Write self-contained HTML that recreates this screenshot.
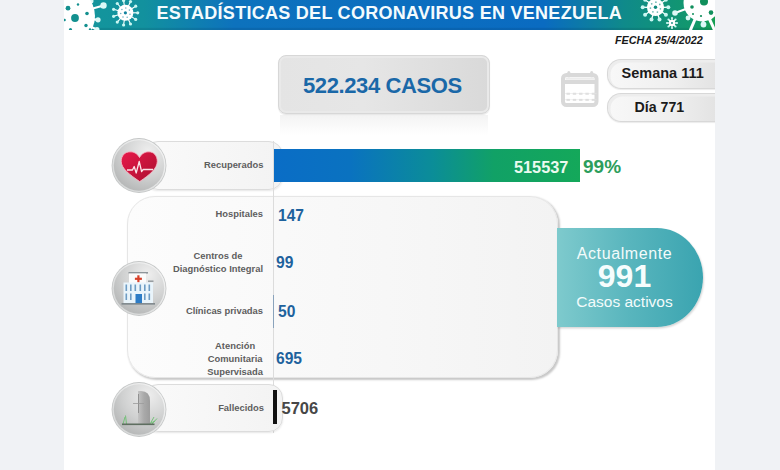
<!DOCTYPE html>
<html><head><meta charset="utf-8">
<style>
*{margin:0;padding:0;box-sizing:border-box}
html,body{width:780px;height:470px;overflow:hidden;background:#f0f2f5;font-family:"Liberation Sans",sans-serif}
.a{position:absolute}
#panel{left:64px;top:0;width:651px;height:470px;background:#fff;overflow:hidden}
#hdr{left:0;top:0;width:651px;height:30px;background:linear-gradient(90deg,#14979b 0px,#12919e 80px,#0d72bd 170px,#0a6bc1 480px,#0f8a8a 560px,#12986c 630px,#16a052 651px);box-shadow:inset 0 -2px 1px rgba(0,30,60,.12)}
.title{left:92.5px;top:3px;font-size:18px;font-weight:bold;color:#f4fbfd;white-space:nowrap;letter-spacing:0.28px}
.fecha{font-size:10.8px;font-weight:bold;font-style:italic;color:#1a1a1a;white-space:nowrap}
.casos{left:214px;top:55px;width:212px;height:59px;border-radius:8px;background:linear-gradient(90deg,#e4e4e4,#e6e6e6 40%,#d9d9d9);border:1px solid #d7d7d7;box-shadow:inset 0 0 0 2px #e9e9e9,0 1px 1px rgba(0,0,0,.1)}
.casos span{position:absolute;left:24px;top:16.5px;font-size:22px;font-weight:bold;color:#1a68a8;letter-spacing:-0.4px;white-space:nowrap}
.pill{border-radius:14px 0 0 14px;background:linear-gradient(90deg,#f8f8f8,#efefef 55%,#e0e0e0);border:1px solid #d8d8d8;border-right:none;box-shadow:inset 1.5px 1.5px 0 1px #ededed,0 1px 1px rgba(0,0,0,.08)}
.pill span{position:absolute;font-size:14px;font-weight:bold;color:#1b1b1b;white-space:nowrap}
.circ{width:55px;height:55px;border-radius:50%;background:radial-gradient(circle at 70% 30%,#f1f1f1 0%,#dedede 45%,#bdbdbd 100%);box-shadow:0 0 0 1.5px #e6e6e6,0 1px 3px rgba(0,0,0,.25)}
.lab{border-radius:14px;background:linear-gradient(90deg,#fafafa,#f3f3f3);border:1px solid #dcdcdc;box-shadow:0 1px 2px rgba(0,0,0,.1)}
.lt{font-size:9.4px;font-weight:bold;color:#5e5e5e;white-space:nowrap;text-align:center;line-height:13px}
.num{font-size:15.6px;font-weight:bold;color:#1e629d;white-space:nowrap}
</style></head><body>
<div id="panel" class="a">
  <div id="hdr" class="a"></div>
  <svg class="a" style="left:0;top:0" width="651" height="30" viewBox="0 0 651 30"><line x1="2" y1="16" x2="39.5" y2="5.5" stroke="#fff" stroke-width="2.2"/><circle cx="39.5" cy="5.5" r="3.2" fill="#dcf8f6"/><line x1="2" y1="16" x2="34" y2="19.8" stroke="#fff" stroke-width="2.2"/><circle cx="34" cy="19.8" r="2.6" fill="#dcf8f6"/><line x1="2" y1="16" x2="27" y2="1" stroke="#fff" stroke-width="2.2"/><circle cx="27" cy="1" r="2.5" fill="#dcf8f6"/><line x1="2" y1="16" x2="33" y2="29.5" stroke="#fff" stroke-width="2.2"/><circle cx="33" cy="29.5" r="2.5" fill="#dcf8f6"/><circle cx="2" cy="16" r="29" fill="#fff"/><circle cx="4" cy="8.2" r="2.4" fill="#13908f"/><circle cx="11" cy="18" r="3.9" fill="#13908f"/><circle cx="23" cy="13.5" r="1.8" fill="#13908f"/><circle cx="22" cy="25.5" r="1.7" fill="#13908f"/><circle cx="14" cy="4.5" r="1.2" fill="#13908f"/><circle cx="6.5" cy="29.5" r="1.6" fill="#13908f"/><circle cx="0.5" cy="20" r="1.3" fill="#13908f"/><circle cx="26" cy="29.5" r="1.2" fill="#13908f"/><line x1="61.4" y1="12.8" x2="73.7" y2="12.8" stroke="#fff" stroke-width="1.1"/><circle cx="73.7" cy="12.8" r="1.6" fill="#c8f7f2"/><line x1="61.4" y1="12.8" x2="71.7" y2="19.4" stroke="#fff" stroke-width="1.1"/><circle cx="71.7" cy="19.4" r="1.6" fill="#c8f7f2"/><line x1="61.4" y1="12.8" x2="66.5" y2="24.0" stroke="#fff" stroke-width="1.1"/><circle cx="66.5" cy="24.0" r="1.6" fill="#c8f7f2"/><line x1="61.4" y1="12.8" x2="59.6" y2="25.0" stroke="#fff" stroke-width="1.1"/><circle cx="59.6" cy="25.0" r="1.6" fill="#c8f7f2"/><line x1="61.4" y1="12.8" x2="53.3" y2="22.1" stroke="#fff" stroke-width="1.1"/><circle cx="53.3" cy="22.1" r="1.6" fill="#c8f7f2"/><line x1="61.4" y1="12.8" x2="49.6" y2="16.3" stroke="#fff" stroke-width="1.1"/><circle cx="49.6" cy="16.3" r="1.6" fill="#c8f7f2"/><line x1="61.4" y1="12.8" x2="49.6" y2="9.3" stroke="#fff" stroke-width="1.1"/><circle cx="49.6" cy="9.3" r="1.6" fill="#c8f7f2"/><line x1="61.4" y1="12.8" x2="53.3" y2="3.5" stroke="#fff" stroke-width="1.1"/><circle cx="53.3" cy="3.5" r="1.6" fill="#c8f7f2"/><line x1="61.4" y1="12.8" x2="59.6" y2="0.6" stroke="#fff" stroke-width="1.1"/><circle cx="59.6" cy="0.6" r="1.6" fill="#c8f7f2"/><line x1="61.4" y1="12.8" x2="66.5" y2="1.6" stroke="#fff" stroke-width="1.1"/><circle cx="66.5" cy="1.6" r="1.6" fill="#c8f7f2"/><line x1="61.4" y1="12.8" x2="71.7" y2="6.2" stroke="#fff" stroke-width="1.1"/><circle cx="71.7" cy="6.2" r="1.6" fill="#c8f7f2"/><circle cx="61.4" cy="12.8" r="8" fill="#fff"/><circle cx="61.4" cy="12.8" r="1.60" fill="#11839f"/><circle cx="66.0" cy="14.2" r="0.80" fill="#11839f" opacity="0.6"/><circle cx="63.2" cy="17.3" r="0.80" fill="#11839f" opacity="0.6"/><circle cx="59.0" cy="17.0" r="0.80" fill="#11839f" opacity="0.6"/><circle cx="56.7" cy="13.5" r="0.80" fill="#11839f" opacity="0.6"/><circle cx="57.9" cy="9.5" r="0.80" fill="#11839f" opacity="0.6"/><circle cx="61.8" cy="8.0" r="0.80" fill="#11839f" opacity="0.6"/><circle cx="65.4" cy="10.1" r="0.80" fill="#11839f" opacity="0.6"/><line x1="591.5" y1="7.3" x2="604.3" y2="7.3" stroke="#fff" stroke-width="1.3"/><circle cx="604.3" cy="7.3" r="2" fill="#c8f7f2"/><line x1="591.5" y1="7.3" x2="601.9" y2="14.8" stroke="#fff" stroke-width="1.3"/><circle cx="601.9" cy="14.8" r="2" fill="#c8f7f2"/><line x1="591.5" y1="7.3" x2="595.5" y2="19.5" stroke="#fff" stroke-width="1.3"/><circle cx="595.5" cy="19.5" r="2" fill="#c8f7f2"/><line x1="591.5" y1="7.3" x2="587.5" y2="19.5" stroke="#fff" stroke-width="1.3"/><circle cx="587.5" cy="19.5" r="2" fill="#c8f7f2"/><line x1="591.5" y1="7.3" x2="581.1" y2="14.8" stroke="#fff" stroke-width="1.3"/><circle cx="581.1" cy="14.8" r="2" fill="#c8f7f2"/><line x1="591.5" y1="7.3" x2="578.7" y2="7.3" stroke="#fff" stroke-width="1.3"/><circle cx="578.7" cy="7.3" r="2" fill="#c8f7f2"/><line x1="591.5" y1="7.3" x2="581.1" y2="-0.2" stroke="#fff" stroke-width="1.3"/><circle cx="581.1" cy="-0.2" r="2" fill="#c8f7f2"/><line x1="591.5" y1="7.3" x2="587.5" y2="-4.9" stroke="#fff" stroke-width="1.3"/><circle cx="587.5" cy="-4.9" r="2" fill="#c8f7f2"/><line x1="591.5" y1="7.3" x2="595.5" y2="-4.9" stroke="#fff" stroke-width="1.3"/><circle cx="595.5" cy="-4.9" r="2" fill="#c8f7f2"/><line x1="591.5" y1="7.3" x2="601.9" y2="-0.2" stroke="#fff" stroke-width="1.3"/><circle cx="601.9" cy="-0.2" r="2" fill="#c8f7f2"/><circle cx="591.5" cy="7.3" r="8.6" fill="#fff"/><circle cx="591.5" cy="7.3" r="1.72" fill="#0e8a7e"/><circle cx="596.4" cy="8.8" r="0.86" fill="#0e8a7e" opacity="0.6"/><circle cx="593.4" cy="12.1" r="0.86" fill="#0e8a7e" opacity="0.6"/><circle cx="588.9" cy="11.8" r="0.86" fill="#0e8a7e" opacity="0.6"/><circle cx="586.4" cy="8.1" r="0.86" fill="#0e8a7e" opacity="0.6"/><circle cx="587.7" cy="3.8" r="0.86" fill="#0e8a7e" opacity="0.6"/><circle cx="591.9" cy="2.2" r="0.86" fill="#0e8a7e" opacity="0.6"/><circle cx="595.8" cy="4.4" r="0.86" fill="#0e8a7e" opacity="0.6"/><line x1="608.0" y1="23.0" x2="613.0" y2="23.0" stroke="#fff" stroke-width="1.2"/><circle cx="613.0" cy="23.0" r="1.1" fill="#c8f7f2"/><line x1="608.0" y1="23.0" x2="611.5" y2="26.5" stroke="#fff" stroke-width="1.2"/><circle cx="611.5" cy="26.5" r="1.1" fill="#c8f7f2"/><line x1="608.0" y1="23.0" x2="608.0" y2="28.0" stroke="#fff" stroke-width="1.2"/><circle cx="608.0" cy="28.0" r="1.1" fill="#c8f7f2"/><line x1="608.0" y1="23.0" x2="604.5" y2="26.5" stroke="#fff" stroke-width="1.2"/><circle cx="604.5" cy="26.5" r="1.1" fill="#c8f7f2"/><line x1="608.0" y1="23.0" x2="603.0" y2="23.0" stroke="#fff" stroke-width="1.2"/><circle cx="603.0" cy="23.0" r="1.1" fill="#c8f7f2"/><line x1="608.0" y1="23.0" x2="604.5" y2="19.5" stroke="#fff" stroke-width="1.2"/><circle cx="604.5" cy="19.5" r="1.1" fill="#c8f7f2"/><line x1="608.0" y1="23.0" x2="608.0" y2="18.0" stroke="#fff" stroke-width="1.2"/><circle cx="608.0" cy="18.0" r="1.1" fill="#c8f7f2"/><line x1="608.0" y1="23.0" x2="611.5" y2="19.5" stroke="#fff" stroke-width="1.2"/><circle cx="611.5" cy="19.5" r="1.1" fill="#c8f7f2"/><circle cx="608" cy="23" r="3.2" fill="#fff"/><circle cx="608" cy="23" r="0.9" fill="#0e8a7e"/><line x1="638" y1="3" x2="611" y2="13" stroke="#fff" stroke-width="2.2"/><circle cx="611" cy="13" r="2.8" fill="#dcf8f6"/><line x1="638" y1="3" x2="624" y2="18" stroke="#fff" stroke-width="2.2"/><circle cx="624" cy="18" r="2.4" fill="#dcf8f6"/><line x1="638" y1="3" x2="639.5" y2="24.5" stroke="#fff" stroke-width="2.2"/><circle cx="639.5" cy="24.5" r="2.9" fill="#dcf8f6"/><line x1="638" y1="3" x2="626" y2="31" stroke="#fff" stroke-width="3"/><line x1="638" y1="3" x2="651" y2="31" stroke="#fff" stroke-width="3"/><circle cx="638" cy="3" r="18.5" fill="#fff"/><circle cx="640" cy="1.5" r="4" fill="#108f5c"/><circle cx="628" cy="7" r="1.8" fill="#108f5c"/><circle cx="647" cy="12.6" r="2.3" fill="#108f5c"/><circle cx="629" cy="14" r="1" fill="#108f5c"/><circle cx="637" cy="16" r="1.1" fill="#108f5c"/></svg>
  <div class="a title">ESTADÍSTICAS DEL CORONAVIRUS EN VENEZUELA</div>
  <div class="a fecha" style="left:551px;top:34px">FECHA 25/4/2022</div>

  <div class="a" style="left:216px;top:115px;width:208px;height:20px;background:linear-gradient(180deg,rgba(215,215,215,.3),rgba(235,235,235,0))"></div>
  <div class="a casos"><span>522.234 CASOS</span></div>

  <svg class="a" style="left:494px;top:66px" width="46" height="46" viewBox="0 0 46 46">
    <g fill="none" stroke="#d9d9d9">
      <rect x="5" y="9" width="33.5" height="30" rx="3.5" stroke-width="4"/>
      <line x1="4.5" y1="16" x2="39" y2="16" stroke-width="4"/>
      <line x1="10.8" y1="6.5" x2="10.8" y2="10" stroke-width="3" stroke-linecap="round"/>
      <line x1="33.7" y1="6.5" x2="33.7" y2="10" stroke-width="3" stroke-linecap="round"/>
    </g>
    <rect x="7.5" y="11.5" width="28.5" height="2.2" fill="#ececec"/>
    <g fill="#d6d6d6"><rect x="8.5" y="26.8" width="3.4" height="1.8"/><rect x="8.5" y="32.9" width="3.4" height="1.8"/><rect x="14.8" y="26.8" width="3.4" height="1.8"/><rect x="14.8" y="32.9" width="3.4" height="1.8"/><rect x="21.1" y="26.8" width="3.4" height="1.8"/><rect x="21.1" y="32.9" width="3.4" height="1.8"/><rect x="27.4" y="26.8" width="3.4" height="1.8"/><rect x="27.4" y="32.9" width="3.4" height="1.8"/><rect x="33.7" y="26.8" width="3.4" height="1.8"/><rect x="33.7" y="32.9" width="3.4" height="1.8"/></g>
    <g fill="#e6e6e6"><rect x="7" y="27.4" width="31.5" height="0.6"/><rect x="7" y="33.5" width="31.5" height="0.6"/></g>
  </svg>
  <div class="a pill" style="left:543px;top:59px;width:120px;height:30px"><span style="left:13.5px;top:5px;font-size:14.5px">Semana 111</span></div>
  <div class="a pill" style="left:543px;top:93px;width:120px;height:29px"><span style="left:26.5px;top:4.5px;font-size:14.2px">Día 771</span></div>

  <!-- recuperados -->
  <div class="a lab" style="left:80px;top:141px;width:139px;height:49px"></div>
  <div class="a lt" style="left:140px;top:158px">Recuperados</div>
  <div class="a" style="left:209px;top:149px;width:307px;height:33px;background:linear-gradient(90deg,#0a6dc6 0%,#0a72c0 25%,#0b8d98 52%,#11a166 72%,#14a85a 100%)"></div>

  <!-- big panel -->
  <div class="a" style="left:63px;top:196px;width:431px;height:182px;border-radius:28px;background:linear-gradient(90deg,#fcfcfc,#f7f7f7 60%,#f3f3f3);border:1px solid #e6e6e6;box-shadow:1.5px 1.5px 2px rgba(0,0,0,.22)"></div>

  <!-- teal tab -->
  <div class="a" style="left:493px;top:228px;width:146px;height:99px;border-radius:0 46px 46px 0/0 49.5px 49.5px 0;background:linear-gradient(90deg,#7ecacd,#58b5bd 50%,#3aa4b0);box-shadow:1px 1.5px 2px rgba(0,0,0,.16)"></div>

  <!-- vertical line -->
  <div class="a" style="left:209px;top:141px;width:1px;height:292px;background:#dcdcdc"></div>

  <div class="a" style="left:209px;top:295px;width:1px;height:33px;background:#8aa3bc"></div>
  <!-- fallecidos -->
  <div class="a lab" style="left:80px;top:384px;width:139px;height:48px"></div>
  <div class="a" style="left:209px;top:390px;width:4px;height:34px;background:#111"></div>


  <!-- texts -->
  <div class="a" style="left:450px;top:158px;font-size:16.3px;font-weight:bold;color:#eafaf0;white-space:nowrap">515537</div>
  <div class="a" style="left:519px;top:155.5px;font-size:19px;font-weight:bold;color:#2c9e5c;white-space:nowrap">99%</div>

  <div class="a lt" style="right:452px;top:207px">Hospitales</div>
  <div class="a lt" style="right:452px;top:249px">Centros de<br>Diagnóstico Integral</div>
  <div class="a lt" style="right:452px;top:304px">Clínicas privadas</div>
  <div class="a lt" style="right:452px;top:339px">Atención<br>Comunitaria<br>Supervisada</div>
  <div class="a lt" style="right:451px;top:400.5px">Fallecidos</div>

  <div class="a num" style="left:214px;top:207px">147</div>
  <div class="a num" style="left:212px;top:254px">99</div>
  <div class="a num" style="left:214px;top:303px">50</div>
  <div class="a num" style="left:212px;top:350px">695</div>
  <div class="a num" style="left:217.5px;top:399px;color:#474747;font-size:16.5px">5706</div>

  <div class="a" style="left:500px;top:245px;width:121px;text-align:center;color:#f3fbfb;white-space:nowrap;font-size:16px;letter-spacing:0.6px">Actualmente</div>
  <div class="a" style="left:500px;top:258px;width:121px;text-align:center;color:#f6fdfd;white-space:nowrap;font-size:32px;font-weight:bold">991</div>
  <div class="a" style="left:500px;top:293px;width:121px;text-align:center;color:#f3fbfb;white-space:nowrap;font-size:15.5px">Casos activos</div>

  <!-- circles -->
  <svg class="a" style="left:46px;top:136.5px" width="57" height="57" viewBox="0 0 57 57"><defs>
<radialGradient id="cg" cx="0.68" cy="0.22" r="1"><stop offset="0" stop-color="#eeeeee"/><stop offset="0.5" stop-color="#d0d1d1"/><stop offset="1" stop-color="#a9abab"/></radialGradient>
<linearGradient id="rim" x1="1" y1="0" x2="0" y2="1"><stop offset="0" stop-color="#f6f6f6"/><stop offset="1" stop-color="#d2d4d4"/></linearGradient>
</defs>
    <circle cx="29" cy="28.5" r="27.4" fill="#c4c6c6"/>
    <circle cx="29" cy="28.5" r="26.6" fill="url(#rim)"/>
    <circle cx="29" cy="28.5" r="25.2" fill="url(#cg)"/>
    <linearGradient id="hg" x1="0" y1="0" x2="1" y2="1"><stop offset="0" stop-color="#e8194a"/><stop offset="1" stop-color="#a90f2f"/></linearGradient>
    <path d="M29.5,20.5 C27,16 23.5,14.8 20,14.8 C14.8,14.8 11.2,18.8 11.2,24.3 C11.2,31.5 19.5,37.5 29.7,44.6 C40,37.5 47.3,31.5 47.3,24.3 C47.3,18.8 43.8,14.8 39,14.8 C35.5,14.8 32,16 29.5,20.5 Z" fill="url(#hg)" stroke="#f7b9c6" stroke-width="0.9"/>
    <polyline points="17,33 22.5,33 24.2,29.5 26.2,36 29.2,24.5 31.6,34.5 33.2,32.5 43,32.5" fill="none" stroke="#fbe3e8" stroke-width="1.3" stroke-linejoin="round"/>
  </svg>
  <svg class="a" style="left:46px;top:259.5px" width="57" height="57" viewBox="0 0 57 57">
    <circle cx="29" cy="28.5" r="27.4" fill="#c4c6c6"/>
    <circle cx="29" cy="28.5" r="26.6" fill="url(#rim)"/>
    <circle cx="29" cy="28.5" r="25.2" fill="url(#cg)"/>
    <g transform="translate(5,4.5)"><rect x="13.5" y="7.5" width="19.5" height="1.6" fill="#8e959a"/>
    <rect x="14" y="9" width="17" height="10" fill="#fbfbfb"/>
    <rect x="22.3" y="10.8" width="2.2" height="7" fill="#d8402a"/>
    <rect x="19.9" y="13.2" width="7" height="2.2" fill="#d8402a"/>
    <rect x="33" y="16" width="5.5" height="1.4" fill="#8e959a"/>
    <rect x="8.5" y="18" width="29.5" height="21" fill="#e9f4fb"/>
    <g fill="#6e9cc4">
      <rect x="10.5" y="20" width="1.6" height="6.5"/><rect x="15" y="20" width="1.6" height="6.5"/><rect x="19.5" y="20" width="1.6" height="6.5"/><rect x="24.5" y="20" width="1.6" height="6.5"/><rect x="29" y="20" width="1.6" height="6.5"/><rect x="33.5" y="20" width="1.6" height="6.5"/>
      <rect x="10.5" y="29" width="1.6" height="6.5"/><rect x="15" y="29" width="1.6" height="6.5"/><rect x="29" y="29" width="1.6" height="6.5"/><rect x="33.5" y="29" width="1.6" height="6.5"/>
    </g>
    <rect x="20.5" y="29.5" width="6.5" height="9.5" fill="#2d7cc6"/>
    <rect x="6.5" y="38.6" width="33.5" height="1.5" fill="#7a8388"/></g>
  </svg>
  <svg class="a" style="left:46px;top:381px" width="57" height="57" viewBox="0 0 57 57">
    <circle cx="29" cy="28.5" r="27.4" fill="#c4c6c6"/>
    <circle cx="29" cy="28.5" r="26.6" fill="url(#rim)"/>
    <circle cx="29" cy="28.5" r="25.2" fill="url(#cg)"/>
    <linearGradient id="tg" x1="0" y1="0" x2="1" y2="0"><stop offset="0" stop-color="#c4c4c4"/><stop offset="0.5" stop-color="#a9a9a9"/><stop offset="1" stop-color="#9c9c9c"/></linearGradient>
    <g><path d="M28,10 L31,10 Q40,10 40,20 L40,43 L28,43 Z" fill="url(#tg)"/>
    <line x1="28.5" y1="13" x2="28.5" y2="32" stroke="#8a8a8a" stroke-width="0.9"/>
    <line x1="23" y1="22.5" x2="34" y2="22.5" stroke="#9a9a9a" stroke-width="0.8"/>
    <path d="M13,43 L15,36 M16.5,43 L15.5,34.5 M40,43 L44,36 M42,43 L47,37.5 M41,42 L45,40" stroke="#6cc070" stroke-width="0.9" fill="none"/>
    <rect x="12" y="42.5" width="32.5" height="1.6" fill="#5e6e60"/></g>
  </svg>
</div>
</body></html>
